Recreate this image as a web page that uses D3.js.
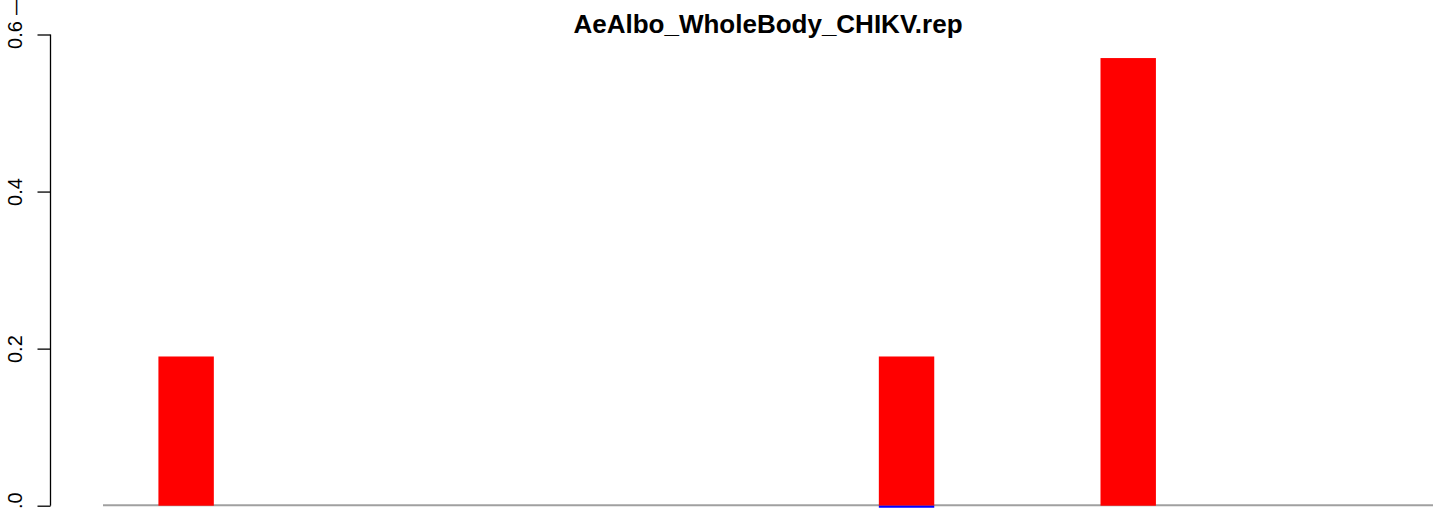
<!DOCTYPE html>
<html>
<head>
<meta charset="utf-8">
<script src="https://cdn.jsdelivr.net/npm/d3@7"></script>
<style>
  html, body { margin: 0; padding: 0; background: #fff; }
  svg { display: block; }
  text { font-family: "Liberation Sans", Arial, Helvetica, sans-serif; }
</style>
</head>
<body>
<svg id="chart" width="1444" height="508"></svg>
<script>
const title = "AeAlbo_WholeBody_CHIKV.rep";
const categories = d3.range(1, 25).map(String);
const redValues  = [0, 0.19, 0, 0, 0, 0, 0, 0, 0, 0, 0, 0, 0, 0, 0.19, 0, 0, 0, 0.57, 0, 0, 0, 0, 0];
const blueValues = [0, 0, 0, 0, 0, 0, 0, 0, 0, 0, 0, 0, 0, 0, -0.0026, 0, 0, 0, 0, 0, 0, 0, 0, 0];
const yTicks = [0, 0.2, 0.4, 0.6];

const W = 1444, H = 508;
const svg = d3.select("#chart");

const x = d3.scaleBand().domain(categories).range([103, 1433]).padding(0);
const y = d3.scaleLinear().domain([0, 0.6]).range([505.7, 34.5]);

// baseline
svg.append("line")
  .attr("x1", x.range()[0]).attr("x2", x.range()[1])
  .attr("y1", y(0) - 0.5).attr("y2", y(0) - 0.5)
  .attr("stroke", "#a0a0a0").attr("stroke-width", 2);

// red bars
svg.append("g").selectAll("rect")
  .data(categories.map((c, i) => ({c, v: redValues[i]})).filter(d => d.v > 0))
  .join("rect")
  .attr("x", d => x(d.c))
  .attr("width", x.bandwidth())
  .attr("y", d => y(d.v))
  .attr("height", d => y(0) - y(d.v))
  .attr("fill", "#ff0000");

// blue bars (tiny, below zero)
svg.append("g").selectAll("rect")
  .data(categories.map((c, i) => ({c, v: blueValues[i]})).filter(d => d.v !== 0))
  .join("rect")
  .attr("x", d => x(d.c))
  .attr("width", x.bandwidth())
  .attr("y", d => Math.min(y(0), y(d.v)))
  .attr("height", d => Math.max(2, Math.abs(y(d.v) - y(0))))
  .attr("fill", "#0000ff");

// y axis
const yAxis = d3.axisLeft(y).tickValues(yTicks).tickFormat(d3.format(".1f")).tickSize(13).tickPadding(0);
const ga = svg.append("g").attr("transform", "translate(50.5,0)").call(yAxis);
ga.select(".domain").attr("stroke", "#000").attr("stroke-width", 1.3)
  .attr("d", `M0,${y(0.6)}V${y(0)}`);
ga.selectAll(".tick line").attr("stroke", "#000").attr("stroke-width", 1.3);
ga.selectAll(".tick text")
  .attr("x", null).attr("dy", null)
  .attr("transform", "translate(-28.5,0) rotate(-90)")
  .attr("text-anchor", "middle")
  .attr("fill", "#000")
  .style("font-size", "20px");

// partial mark at top-left
svg.append("text")
  .attr("transform", "translate(21.5,5) rotate(-90)")
  .attr("text-anchor", "middle")
  .style("font-size", "20px")
  .text("—");

// title
svg.append("text")
  .attr("x", 768).attr("y", 33)
  .attr("text-anchor", "middle")
  .style("font-size", "26px")
  .style("font-weight", "bold")
  .text(title);
</script>
</body>
</html>
